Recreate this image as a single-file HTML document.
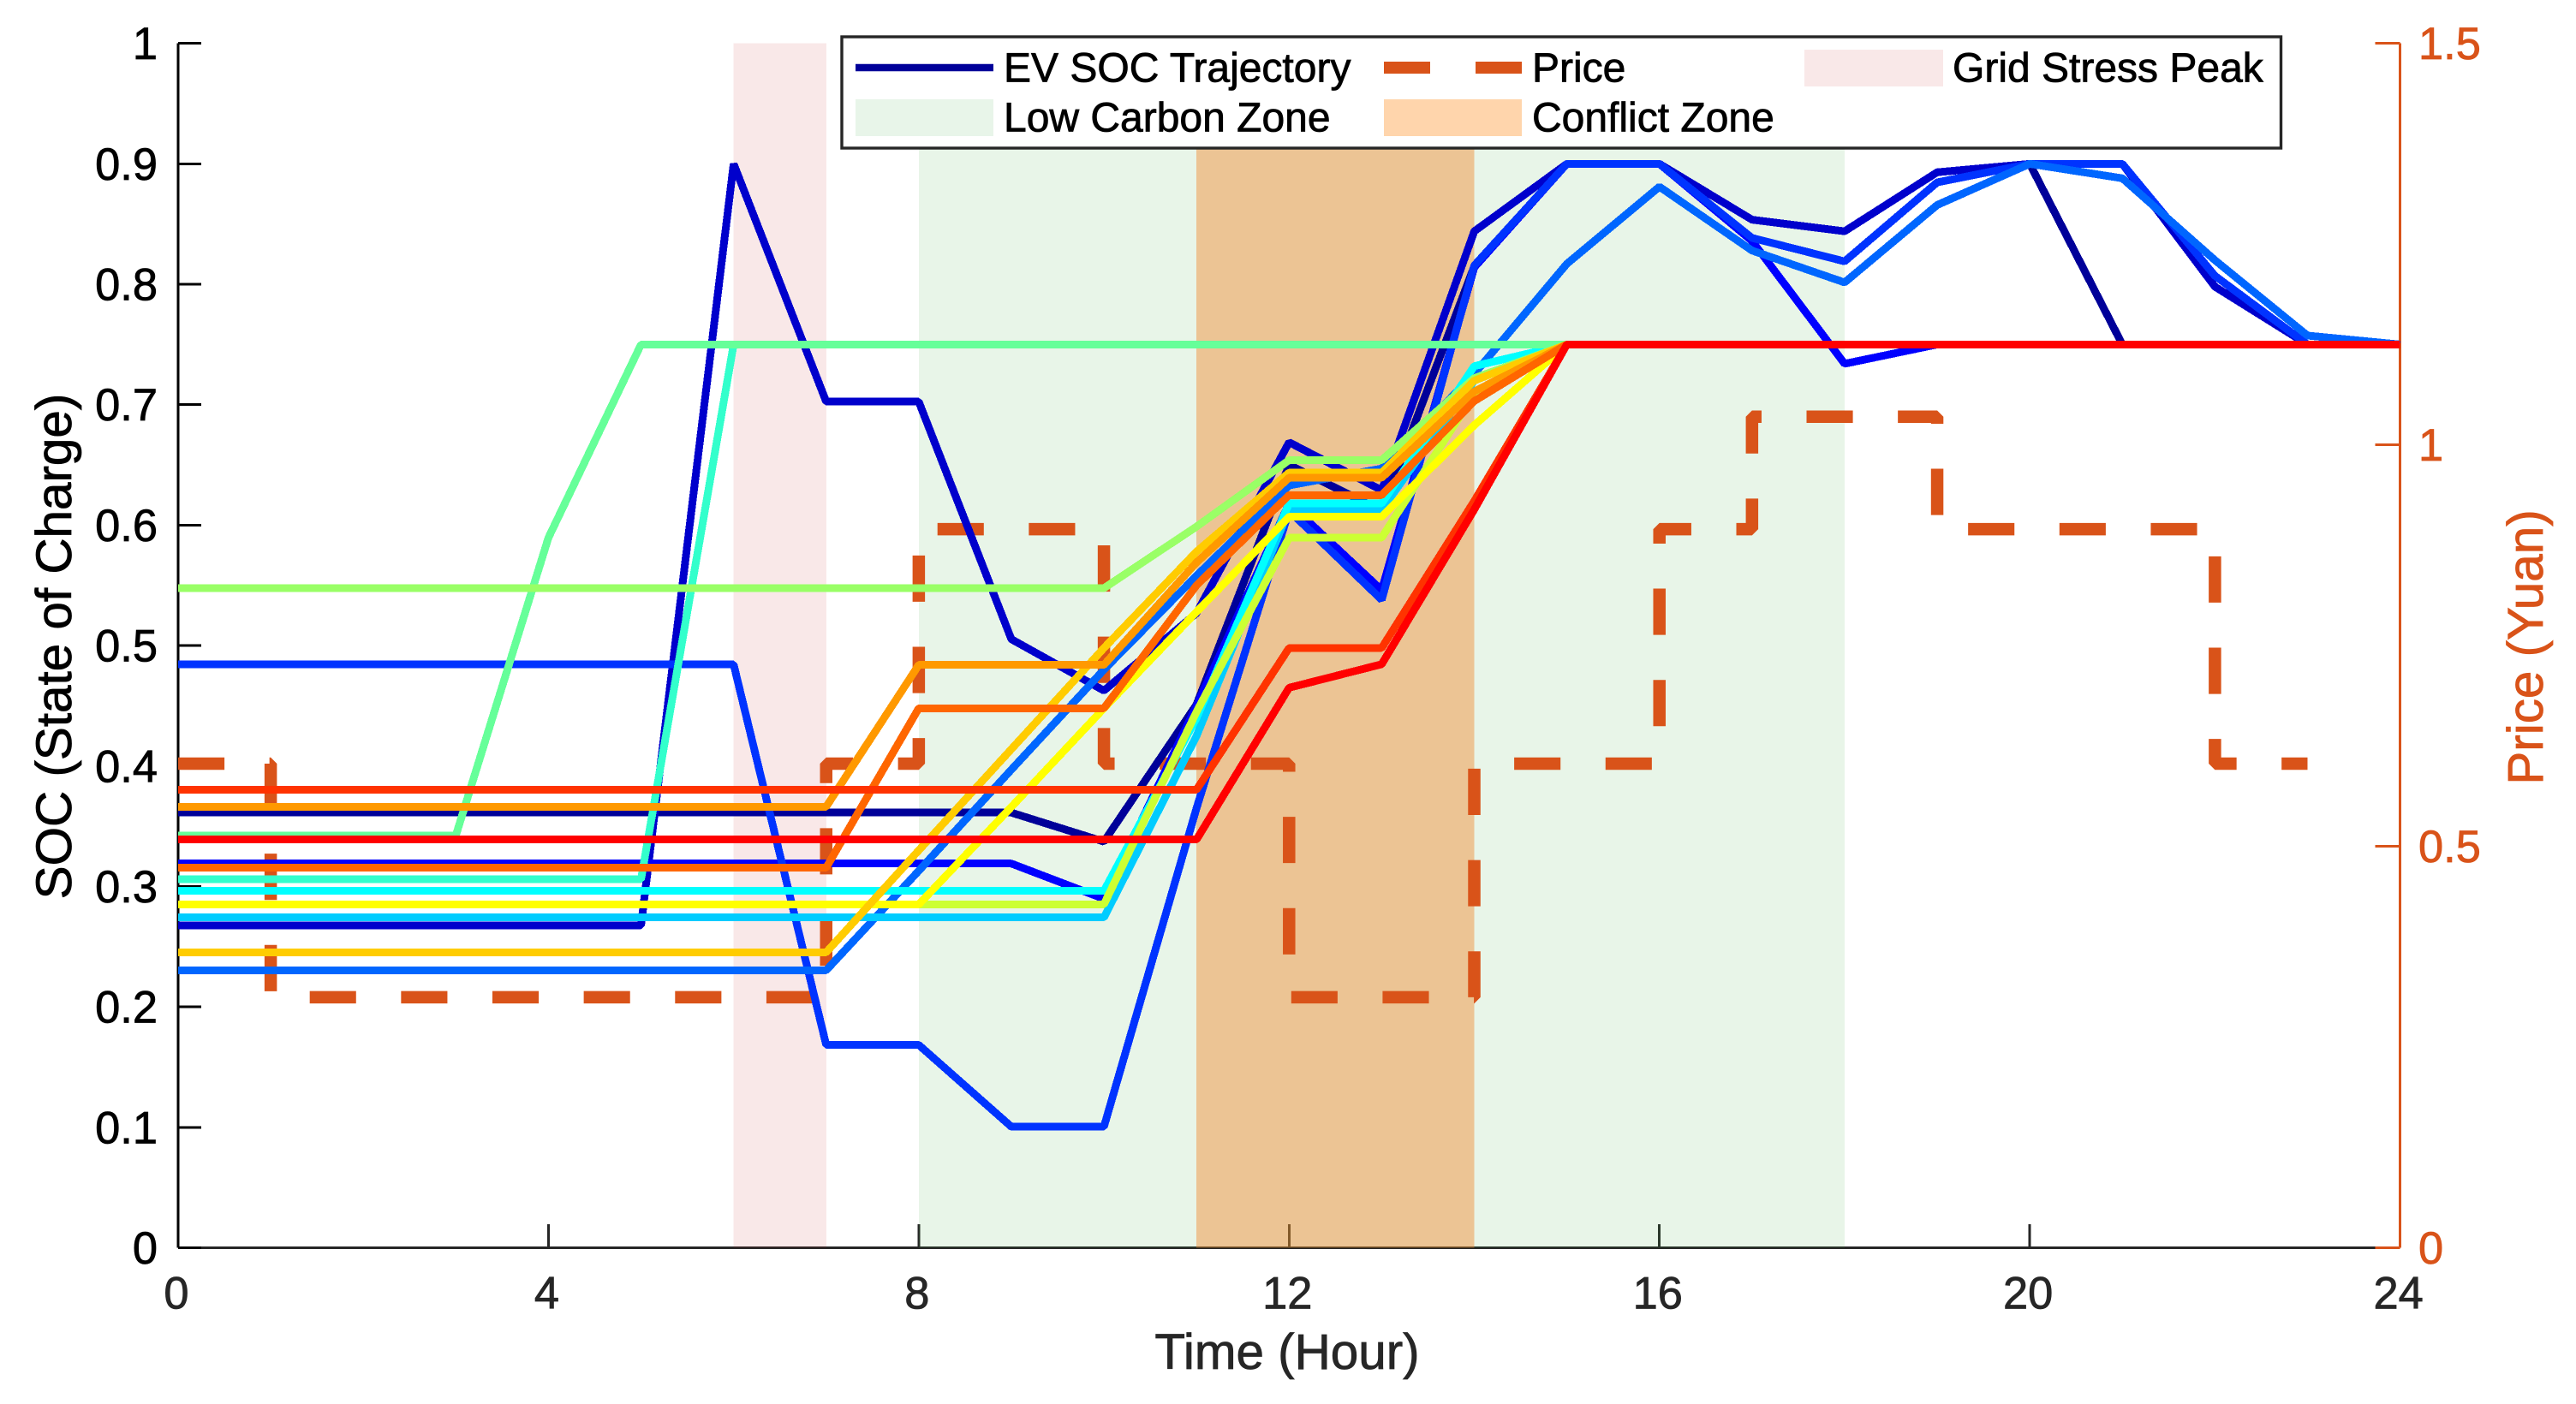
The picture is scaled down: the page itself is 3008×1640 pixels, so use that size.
<!DOCTYPE html>
<html lang="en">
<head>
<meta charset="utf-8">
<title>EV SOC Trajectories and Price</title>
<style>
html,body{margin:0;padding:0;background:#fff;}
svg{display:block;font-family:"Liberation Sans",Arial,sans-serif;}
text{stroke-width:0.8px;}
text[fill="#000000"]{stroke:#000000;}
text[fill="#262626"]{stroke:#262626;}
text[fill="#D95319"]{stroke:#D95319;}
</style>
</head>
<body>
<svg id="chart" xmlns="http://www.w3.org/2000/svg" width="3008" height="1640" viewBox="0 0 3008 1640">
  <rect x="0" y="0" width="3008" height="1640" fill="#ffffff"/>
  <g id="axes-layer"></g>
  <g id="zones-layer"></g>
  <g id="price-layer"></g>
  <g id="soc-layer"></g>

  <text x="1503" y="1599" font-size="58.4" fill="#262626" text-anchor="middle">Time (Hour)</text>
  <text transform="translate(83,755) rotate(-90)" font-size="58.4" fill="#000000" text-anchor="middle">SOC (State of Charge)</text>
  <text transform="translate(2969,756) rotate(-90)" font-size="58.4" fill="#D95319" text-anchor="middle">Price (Yuan)</text>

  <g>
    <rect x="983" y="43" width="1680.5" height="130" fill="#ffffff" stroke="#262626" stroke-width="3.4"/>
    <line x1="999" x2="1160" y1="79" y2="79" stroke="#000099" stroke-width="8.5"/>
    <text x="1172" y="95.5" font-size="48" fill="#000000">EV SOC Trajectory</text>
    <rect x="999" y="116" width="161" height="43" fill="#E8F5E9"/>
    <text x="1172" y="153.5" font-size="48" fill="#000000">Low Carbon Zone</text>
    <rect x="1616" y="72" width="54" height="14" fill="#D95319"/>
    <rect x="1723" y="72" width="54" height="14" fill="#D95319"/>
    <text x="1789" y="95.5" font-size="48" fill="#000000">Price</text>
    <rect x="1616" y="116" width="161" height="43" fill="#FFD5AC"/>
    <text x="1789" y="153.5" font-size="48" fill="#000000">Conflict Zone</text>
    <rect x="2107" y="58" width="162" height="43" fill="#F9E8E8"/>
    <text x="2280" y="95.5" font-size="48" fill="#000000">Grid Stress Peak</text>
  </g>
</svg>

<script>
// ---- Axis tick labels ----
const xTicks = [0, 4, 8, 12, 16, 20, 24];
const socTicks = [0, 0.1, 0.2, 0.3, 0.4, 0.5, 0.6, 0.7, 0.8, 0.9, 1];
const priceTicks = [0, 0.5, 1, 1.5];

// ---- Shaded time ranges [start hour, end hour] ----
const lowCarbonRange = [8, 18];
const conflictRange = [11, 14];
const gridStressRange = [6, 7];

// ---- Electricity price, hours 0..23 ----
const priceValues = [0.603,0.312,0.312,0.312,0.312,0.312,0.312,0.603,0.895,0.895,0.603,0.603,0.312,0.312,0.603,0.603,0.895,1.035,1.035,0.895,0.895,0.895,0.603,0.603];

// ---- SOC per EV, hours 0..24 ----
const ev01 = [.3613,.3613,.3613,.3613,.3613,.3613,.3613,.3613,.3613,.3613,.3372,.451,.65,.612,.815,.9,.9,.8536,.844,.893,.9,.75,.75,.75,.75];
const ev02 = [.2677,.2677,.2677,.2677,.2677,.2677,.9,.7025,.7025,.5053,.4626,.527,.6688,.629,.844,.9,.9,.8536,.844,.893,.9,.9,.798,.75,.75];
const ev03 = [.319,.319,.319,.319,.319,.319,.319,.319,.319,.319,.2897,.45,.618,.546,.814,.9,.9,.836,.734,.75,.75,.75,.75,.75,.75];
const ev04 = [.4844,.4844,.4844,.4844,.4844,.4844,.4844,.1684,.1684,.1005,.1005,.365,.612,.538,.8156,.9,.9,.8385,.819,.8846,.9,.9,.807,.75,.75];
const ev05 = [.2304,.2304,.2304,.2304,.2304,.2304,.2304,.2304,.313,.397,.48,.558,.633,.647,.7256,.817,.881,.828,.8015,.8658,.9,.888,.82,.7574,.75];
const ev06 = [.2743,.2743,.2743,.2743,.2743,.2743,.2743,.2743,.2743,.2743,.2743,.425,.613,.613,.72,.75,.75,.75,.75,.75,.75,.75,.75,.75,.75];
const ev07 = [.2963,.2963,.2963,.2963,.2963,.2963,.2963,.2963,.2963,.2963,.2963,.44,.618,.618,.732,.75,.75,.75,.75,.75,.75,.75,.75,.75,.75];
const ev08 = [.306,.306,.306,.306,.306,.306,.75,.75,.75,.75,.75,.75,.75,.75,.75,.75,.75,.75,.75,.75,.75,.75,.75,.75,.75];
const ev09 = [.3424,.3424,.3424,.3424,.5896,.75,.75,.75,.75,.75,.75,.75,.75,.75,.75,.75,.75,.75,.75,.75,.75,.75,.75,.75,.75];
const ev10 = [.5477,.5477,.5477,.5477,.5477,.5477,.5477,.5477,.5477,.5477,.5477,.5988,.654,.654,.722,.75,.75,.75,.75,.75,.75,.75,.75,.75,.75];
const ev11 = [.2851,.2851,.2851,.2851,.2851,.2851,.2851,.2851,.2851,.2851,.2851,.445,.5896,.5896,.709,.75,.75,.75,.75,.75,.75,.75,.75,.75,.75];
const ev12 = [.2851,.2851,.2851,.2851,.2851,.2851,.2851,.2851,.2851,.366,.448,.528,.607,.607,.683,.75,.75,.75,.75,.75,.75,.75,.75,.75,.75];
const ev13 = [.2453,.2453,.2453,.2453,.2453,.2453,.2453,.2453,.33,.414,.498,.578,.6436,.6436,.72,.75,.75,.75,.75,.75,.75,.75,.75,.75,.75];
const ev14 = [.3662,.3662,.3662,.3662,.3662,.3662,.3662,.3662,.484,.484,.484,.569,.6394,.6394,.711,.75,.75,.75,.75,.75,.75,.75,.75,.75,.75];
const ev15 = [.3156,.3156,.3156,.3156,.3156,.3156,.3156,.3156,.448,.448,.448,.55,.625,.625,.703,.75,.75,.75,.75,.75,.75,.75,.75,.75,.75];
const ev16 = [.3803,.3803,.3803,.3803,.3803,.3803,.3803,.3803,.3803,.3803,.3803,.3803,.498,.498,.62,.75,.75,.75,.75,.75,.75,.75,.75,.75,.75];
const ev17 = [.3389,.3389,.3389,.3389,.3389,.3389,.3389,.3389,.3389,.3389,.3389,.3389,.465,.4845,.613,.75,.75,.75,.75,.75,.75,.75,.75,.75,.75];
const socSeries = [ev01, ev02, ev03, ev04, ev05, ev06, ev07, ev08, ev09, ev10, ev11, ev12, ev13, ev14, ev15, ev16, ev17];

// ---- Line colours, same order as socSeries ----
const lineColors = ['#000099','#0000cc','#0000ff','#0033ff','#0066ff','#00ccff','#00ffff','#33ffcc','#66ff99','#99ff66','#ccff33','#ffff00','#ffcc00','#ff9900','#ff6600','#ff3300','#ff0000'];

// ---- Axis functions ----
const plotLeft = 208, plotRight = 2802.6, plotTop = 50.7, plotBottom = 1457.5;
const xDomainMax = 24, socDomainMax = 1, priceDomainMax = 1.5;
function xScale(h) { return plotLeft + (h / xDomainMax) * (plotRight - plotLeft); }
function socScale(v) { return plotBottom - (v / socDomainMax) * (plotBottom - plotTop); }
function priceScale(v) { return plotBottom - (v / priceDomainMax) * (plotBottom - plotTop); }

const NS = 'http://www.w3.org/2000/svg';
function mk(tag, attrs, parent) {
  const el = document.createElementNS(NS, tag);
  for (const k in attrs) el.setAttribute(k, attrs[k]);
  parent.appendChild(el);
  return el;
}
const axesLayer = document.getElementById('axes-layer');
const zonesLayer = document.getElementById('zones-layer');
const priceLayer = document.getElementById('price-layer');
const socLayer = document.getElementById('soc-layer');

// X axis
const xAxisLine = mk('line', {x1: plotLeft, x2: plotRight, y1: plotBottom, y2: plotBottom, stroke: '#262626', 'stroke-width': 3, 'shape-rendering': 'crispEdges'}, axesLayer);


xTicks.forEach(function (t) {
  const tick = mk('line', {x1: xScale(t), x2: xScale(t), y1: plotBottom, y2: plotBottom - 27.5, stroke: '#262626', 'stroke-width': 3, 'shape-rendering': 'crispEdges'}, axesLayer);
  
  
  const label = mk('text', {x: xScale(t) - 2, y: 1528.5, 'font-size': 52.4, fill: '#262626', 'text-anchor': 'middle'}, axesLayer);
  
  
  label.textContent = String(t);
});

// Left Y axis
const leftAxisLine = mk('line', {x1: plotLeft, x2: plotLeft, y1: plotTop, y2: plotBottom, stroke: '#000000', 'stroke-width': 3, 'shape-rendering': 'crispEdges'}, axesLayer);


socTicks.forEach(function (t) {
  const tick = mk('line', {x1: plotLeft, x2: plotLeft + 27, y1: socScale(t), y2: socScale(t), stroke: '#000000', 'stroke-width': 3, 'shape-rendering': 'crispEdges'}, axesLayer);
  
  
  const label = mk('text', {x: 184, y: socScale(t) + 18.5, 'font-size': 52.4, fill: '#000000', 'text-anchor': 'end'}, axesLayer);
  
  
  label.textContent = String(t);
});

// Right Y axis
const rightAxisLine = mk('line', {x1: plotRight, x2: plotRight, y1: plotTop, y2: plotBottom, stroke: '#D95319', 'stroke-width': 3, 'shape-rendering': 'crispEdges'}, axesLayer);


priceTicks.forEach(function (t) {
  const tick = mk('line', {x1: plotRight - 29, x2: plotRight, y1: priceScale(t), y2: priceScale(t), stroke: '#D95319', 'stroke-width': 3, 'shape-rendering': 'crispEdges'}, axesLayer);
  
  
  const label = mk('text', {x: 2824, y: priceScale(t) + 18.5, 'font-size': 52.4, fill: '#D95319', 'text-anchor': 'start'}, axesLayer);
  
  
  label.textContent = String(t);
});

// Zones
function drawZone(range, fill, opacity) {
  return mk('rect', {x: xScale(range[0]), y: plotTop, width: xScale(range[1]) - xScale(range[0]), height: plotBottom - plotTop, fill: fill, 'fill-opacity': opacity, 'shape-rendering': 'crispEdges'}, zonesLayer);
}
const lowCarbonZone = drawZone(lowCarbonRange, '#4CAF50', 0.13);


const gridStressZone = drawZone(gridStressRange, '#C83232', 0.11);


const conflictZone = drawZone(conflictRange, '#F18629', 0.44);



// Price stairs
let priceD = '';
priceValues.forEach(function (p, h) {
  if (h === 0) {
    priceD += 'M' + xScale(h) + ' ' + priceScale(p);
  } else {
    priceD += ' L' + xScale(h) + ' ' + priceScale(priceValues[h - 1]);
    priceD += ' L' + xScale(h) + ' ' + priceScale(p);
  }
});
const priceLine = mk('path', {d: priceD, fill: 'none', stroke: '#D95319', 'stroke-width': 14.5, 'stroke-dasharray': '54.1 52.55', 'stroke-linejoin': 'bevel', 'stroke-linecap': 'butt'}, priceLayer);



// SOC lines
socSeries.forEach(function (values, i) {
  const pts = values.map(function (v, h) { return xScale(h) + ',' + socScale(v); }).join(' ');
  const line = mk('polyline', {points: pts, fill: 'none', stroke: lineColors[i], 'stroke-width': 9, 'stroke-linejoin': 'bevel', 'stroke-linecap': 'butt', 'shape-rendering': 'crispEdges'}, socLayer);
  
  
});
</script>
</body>
</html>
